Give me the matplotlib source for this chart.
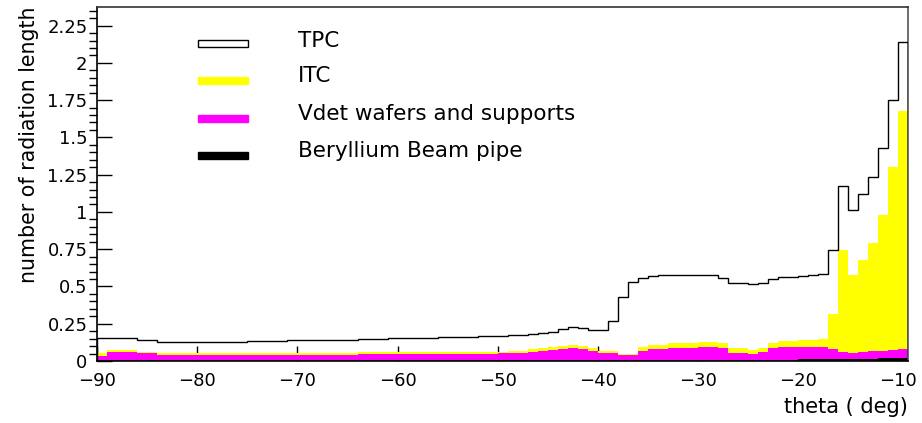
import numpy as np
import matplotlib
matplotlib.use("Agg")
import matplotlib.pyplot as plt
from matplotlib.patches import Rectangle
from matplotlib.ticker import MultipleLocator, FuncFormatter

# bin edges: 1 degree bins from -90 to -9
edges = np.arange(-90, -8, 1)

# cumulative radiation length (one value per bin)
# total up to TPC (outline)
total_tpc = [0.152, 0.152, 0.152, 0.152, 0.141, 0.141, 0.130, 0.130, 0.130, 0.130,
             0.130, 0.130, 0.130, 0.130, 0.130, 0.134, 0.134, 0.134, 0.134, 0.139,
             0.139, 0.139, 0.140, 0.140, 0.141, 0.144, 0.145, 0.148, 0.150, 0.151,
             0.152, 0.152, 0.157, 0.157, 0.158, 0.160, 0.162, 0.163, 0.165, 0.166,
             0.168, 0.172, 0.174, 0.180, 0.185, 0.195, 0.212, 0.226, 0.224, 0.210,
             0.208, 0.268, 0.427, 0.532, 0.555, 0.570, 0.574, 0.575, 0.575, 0.576,
             0.576, 0.574, 0.555, 0.526, 0.521, 0.515, 0.520, 0.548, 0.562, 0.565,
             0.572, 0.575, 0.582, 0.745, 1.177, 1.013, 1.119, 1.233, 1.427, 1.752,
             2.139]
# up to ITC
total_itc = [0.055, 0.074, 0.074, 0.074, 0.062, 0.062, 0.052, 0.052, 0.052, 0.052,
             0.052, 0.052, 0.052, 0.052, 0.052, 0.052, 0.052, 0.053, 0.053, 0.053,
             0.053, 0.053, 0.053, 0.053, 0.053, 0.053, 0.057, 0.057, 0.057, 0.057,
             0.057, 0.057, 0.057, 0.062, 0.062, 0.062, 0.062, 0.062, 0.062, 0.062,
             0.063, 0.064, 0.070, 0.080, 0.085, 0.092, 0.100, 0.107, 0.100, 0.085,
             0.067, 0.067, 0.047, 0.047, 0.096, 0.107, 0.107, 0.119, 0.119, 0.119,
             0.130, 0.130, 0.119, 0.085, 0.085, 0.074, 0.085, 0.119, 0.136, 0.136,
             0.141, 0.143, 0.145, 0.313, 0.745, 0.577, 0.678, 0.790, 0.980, 1.304,
             1.678]
# up to Vdet
total_vdet = [0.034, 0.060, 0.060, 0.060, 0.052, 0.052, 0.040, 0.040, 0.040, 0.040,
              0.040, 0.040, 0.040, 0.040, 0.040, 0.040, 0.040, 0.041, 0.041, 0.041,
              0.041, 0.041, 0.041, 0.041, 0.041, 0.041, 0.045, 0.045, 0.045, 0.045,
              0.045, 0.045, 0.045, 0.050, 0.050, 0.050, 0.050, 0.050, 0.050, 0.050,
              0.051, 0.052, 0.055, 0.062, 0.068, 0.074, 0.080, 0.085, 0.080, 0.067,
              0.056, 0.056, 0.040, 0.040, 0.067, 0.078, 0.078, 0.085, 0.085, 0.085,
              0.092, 0.092, 0.090, 0.056, 0.056, 0.047, 0.063, 0.085, 0.092, 0.092,
              0.092, 0.092, 0.092, 0.080, 0.063, 0.056, 0.060, 0.065, 0.070, 0.076,
              0.082]
# beryllium beam pipe
beam_pipe = [0.004, 0.004, 0.004, 0.004, 0.004, 0.004, 0.004, 0.004, 0.004, 0.004,
             0.004, 0.004, 0.004, 0.004, 0.004, 0.004, 0.007, 0.007, 0.007, 0.007,
             0.007, 0.007, 0.007, 0.007, 0.007, 0.007, 0.007, 0.007, 0.007, 0.007,
             0.007, 0.007, 0.007, 0.007, 0.007, 0.007, 0.007, 0.007, 0.007, 0.007,
             0.007, 0.007, 0.007, 0.007, 0.007, 0.007, 0.007, 0.007, 0.007, 0.007,
             0.009, 0.009, 0.009, 0.009, 0.009, 0.009, 0.009, 0.009, 0.009, 0.009,
             0.009, 0.009, 0.009, 0.009, 0.009, 0.009, 0.009, 0.009, 0.009, 0.009,
             0.011, 0.011, 0.012, 0.012, 0.013, 0.014, 0.015, 0.016, 0.017, 0.018,
             0.020]

labels = ["TPC", "ITC", "Vdet wafers and supports", "Beryllium Beam pipe"]
colors = ["white", "#ffff00", "#ff00ff", "black"]

fig = plt.figure(figsize=(9.22, 4.23), dpi=100)
ax = fig.add_axes([0.1055, 0.1466, 0.8793, 0.8369])

ax.stairs(total_tpc, edges, color="black", lw=1.0, zorder=3)
ax.stairs(total_itc, edges, fill=True, color=colors[1], zorder=2)
ax.stairs(total_vdet, edges, fill=True, color=colors[2], zorder=2)
ax.stairs(beam_pipe, edges, fill=True, color=colors[3], zorder=2)

ax.set_xlim(-90, -9)
ax.set_ylim(0, 2.375)
ax.set_axisbelow(True)

ax.xaxis.set_major_locator(MultipleLocator(10))
ax.yaxis.set_major_locator(MultipleLocator(0.25))
ax.yaxis.set_minor_locator(MultipleLocator(0.05))
ax.yaxis.set_major_formatter(FuncFormatter(lambda v, p: f"{v:g}"))
ax.tick_params(axis="both", direction="in", labelsize=13)
ax.tick_params(axis="y", which="major", length=11, width=1, pad=7)
ax.tick_params(axis="y", which="minor", length=5.5, width=1)
ax.tick_params(axis="x", which="major", length=11, width=1, pad=8)

for s in ax.spines.values():
    s.set_linewidth(1.2)
ax.spines["top"].set_color("#333333")
ax.spines["right"].set_color("#555555")

ax.set_ylabel("number of radiation length", fontsize=14.8, loc="top", labelpad=6)
ax.set_xlabel("theta ( deg)", fontsize=15, loc="right", labelpad=5)

# legend drawn by hand like the original
patch_y = [0.897, 0.792, 0.685, 0.580]
text_y = [0.904, 0.805, 0.698, 0.592]
for i in range(4):
    ax.add_patch(Rectangle((0.124, patch_y[i] - 0.01), 0.062, 0.02,
                           transform=ax.transAxes, facecolor=colors[i],
                           edgecolor="black" if i == 0 else colors[i],
                           lw=1.0, zorder=4))
    ax.text(0.2476, text_y[i], labels[i], transform=ax.transAxes,
            fontsize=15.5, va="center", ha="left")

fig.savefig("out.png", dpi=100)
